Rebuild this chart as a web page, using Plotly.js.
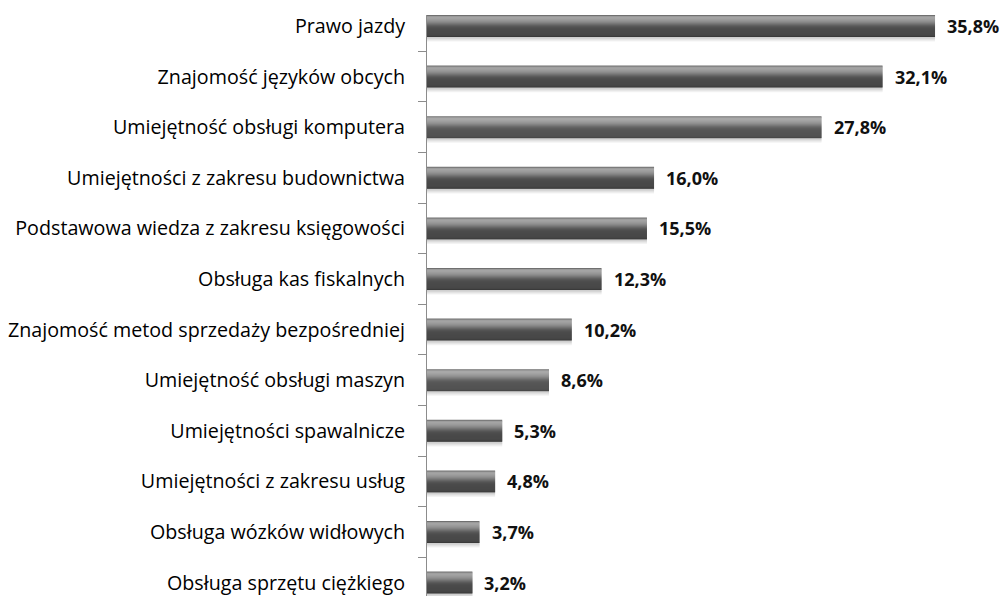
<!DOCTYPE html>
<html>
<head>
<meta charset="utf-8">
<script src="https://cdn.plot.ly/plotly-3.0.1.min.js"></script>
<style>html,body{margin:0;padding:0;background:#fff;}#chart{width:1005px;height:596px;}</style>
</head>
<body>
<div id="chart"></div>
<script>
var categories = [
  "Prawo jazdy",
  "Znajomość języków obcych",
  "Umiejętność obsługi komputera",
  "Umiejętności z zakresu budownictwa",
  "Podstawowa wiedza z zakresu księgowości",
  "Obsługa kas fiskalnych",
  "Znajomość metod sprzedaży bezpośredniej",
  "Umiejętność obsługi maszyn",
  "Umiejętności spawalnicze",
  "Umiejętności z zakresu usług",
  "Obsługa wózków widłowych",
  "Obsługa sprzętu ciężkiego"
];
var values = [35.8, 32.1, 27.8, 16.0, 15.5, 12.3, 10.2, 8.6, 5.3, 4.8, 3.7, 3.2];
var valueLabels = ["35,8%", "32,1%", "27,8%", "16,0%", "15,5%", "12,3%", "10,2%", "8,6%", "5,3%", "4,8%", "3,7%", "3,2%"];

var PXU = 1 / 50.6;          // one pixel in category units
var H = 22;                  // bar thickness in px
var top0 = -H / 2 * PXU;

// shading rows (top to bottom), one per pixel, then a soft shadow below
var rowColors = [
  "#707070", "#9a9a9a", "#a4a4a4", "#a2a2a2", "#9c9c9c", "#969696", "#8e8e8e",
  "#848484", "#787878", "#6c6c6c", "#606060", "#575757", "#515151", "#4d4d4d",
  "#4b4b4b", "#4a4a4a", "#494949", "#494949", "#484848", "#474747", "#444444", "#3a3a3a",
  "#cfcfcf", "#dddddd", "#e9e9e9", "#f3f3f3"
];

var traces = [];
for (var r = rowColors.length - 1; r >= 22; r--) {
  traces.push({
    type: "bar", orientation: "h", y: categories, x: values,
    offset: top0 + r * PXU, width: 1.6 * PXU,
    marker: { color: rowColors[r], line: { width: 0 } },
    hoverinfo: "skip", showlegend: false
  });
}
for (var k = 0; k < 22; k++) {
  traces.push({
    type: "bar", orientation: "h", y: categories, x: values,
    offset: top0 + k * PXU, width: (k === 21 ? 1 : 1.6) * PXU,
    marker: { color: rowColors[k], line: { width: 0 } },
    hoverinfo: "skip", showlegend: false
  });
}

var annotations = categories.map(function (c, i) {
  return {
    x: values[i], y: c, xref: "x", yref: "y",
    text: valueLabels[i], showarrow: false,
    xanchor: "left", yanchor: "middle", xshift: 10,
    font: { family: "'Open Sans', sans-serif", size: 18, color: "#111", weight: "bold" }
  };
});

var layout = {
  width: 1005,
  height: 596,
  margin: { l: 427, r: 0, t: 15, b: 0, pad: 0 },
  barmode: "overlay",
  paper_bgcolor: "#ffffff",
  plot_bgcolor: "#ffffff",
  showlegend: false,
  annotations: annotations,
  xaxis: {
    range: [0, 40.73],
    visible: false,
    showgrid: false,
    zeroline: false,
    fixedrange: true
  },
  yaxis: {
    type: "category",
    range: [top0 + 581 * PXU, top0],
    showgrid: false,
    zeroline: false,
    showline: true,
    linecolor: "#8c8c8c",
    linewidth: 1,
    ticks: "outside",
    tickson: "boundaries",
    ticklen: 8,
    tickcolor: "#8c8c8c",
    tickwidth: 1,
    ticklabelstandoff: 17,
    tickfont: { family: "'Open Sans', sans-serif", size: 19.7, color: "#000" },
    automargin: false,
    fixedrange: true
  }
};

Plotly.newPlot("chart", traces, layout, { displayModeBar: false, staticPlot: true });
</script>
</body>
</html>
